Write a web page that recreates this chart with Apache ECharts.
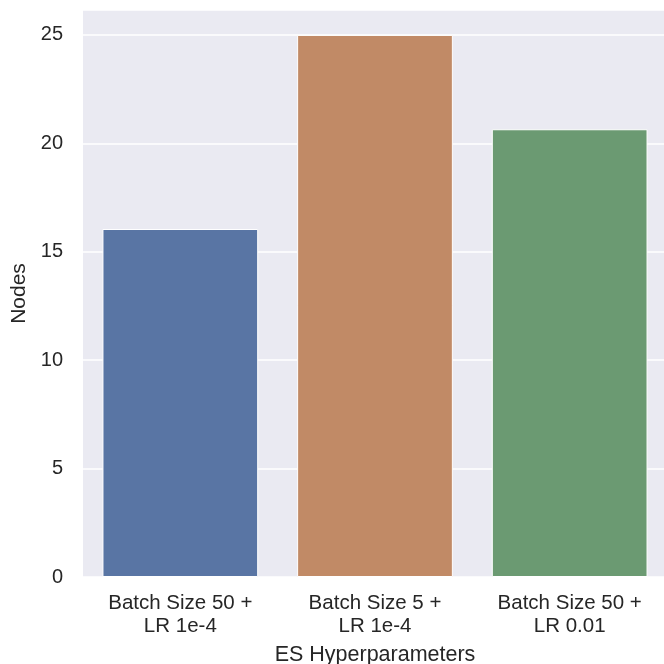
<!DOCTYPE html>
<html>
<head>
<meta charset="utf-8">
<script src="https://cdn.jsdelivr.net/npm/echarts@6/dist/echarts.min.js"></script>
<style>html,body{margin:0;padding:0;background:#fff;}#chart{width:664px;height:664px;}</style>
</head>
<body>
<div id="chart"></div>
<script>
const categories = ['Batch Size 50 +\nLR 1e-4', 'Batch Size 5 +\nLR 1e-4', 'Batch Size 50 +\nLR 0.01'];
const nodes = [16.05, 25.0, 20.65];
const barColors = ['#5975a4', '#c18a66', '#6b9a72'];
const yTicks = [0, 5, 10, 15, 20, 25];

const chart = echarts.init(document.getElementById('chart'), null, {renderer: 'canvas'});
const font = 'Liberation Sans, Arial, sans-serif';
chart.setOption({
  animation: false,
  grid: {left: 83, right: -3, top: 10, bottom: 87, show: true, backgroundColor: '#eaeaf2', borderWidth: 0, outerBoundsMode: 'none', containLabel: false},
  xAxis: {
    type: 'category',
    data: categories,
    name: 'ES Hyperparameters',
    nameLocation: 'middle',
    nameGap: 67,
    nameTextStyle: {fontFamily: font, fontSize: 21.5, color: '#262626'},
    axisLine: {show: false},
    axisTick: {show: false},
    axisLabel: {fontFamily: font, fontSize: 20.5, color: '#262626', lineHeight: 23, margin: 15}
  },
  yAxis: {
    type: 'value',
    min: 0,
    max: 26.15,
    interval: 5,
    name: 'Nodes',
    nameLocation: 'middle',
    nameGap: 50,
    nameTextStyle: {fontFamily: font, fontSize: 21, color: '#262626'},
    axisLine: {show: false},
    axisTick: {show: false},
    splitLine: {lineStyle: {color: '#ffffff', width: 1.5}},
    axisLabel: {
      fontFamily: font, fontSize: 20, color: '#262626', margin: 20, showMaxLabel: false,
      formatter: v => yTicks.includes(v) ? String(v) : ''
    }
  },
  series: [{
    type: 'bar',
    data: nodes.map((v, i) => ({value: v, itemStyle: {color: barColors[i]}})),
    barCategoryGap: '20%',
    itemStyle: {borderColor: '#ffffff', borderWidth: 1}
  }]
});
</script>
</body>
</html>
